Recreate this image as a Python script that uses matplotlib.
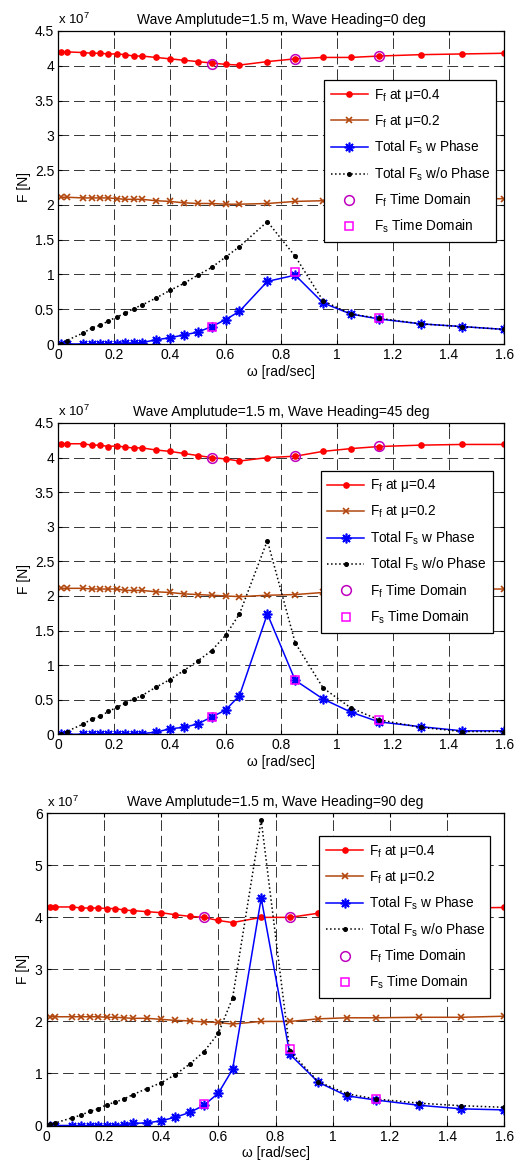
import matplotlib
matplotlib.use('Agg')
import matplotlib.pyplot as plt
from matplotlib.ticker import FormatStrFormatter

plt.rcParams['font.family'] = ['Liberation Sans', 'DejaVu Sans']
plt.rcParams['mathtext.fontset'] = 'custom'
plt.rcParams['mathtext.rm'] = 'Liberation Sans'
plt.rcParams['mathtext.it'] = 'Liberation Sans:italic'
plt.rcParams['mathtext.default'] = 'regular'

# wave frequency [rad/sec]
omega = [0.01, 0.03, 0.09, 0.12, 0.15, 0.18, 0.21, 0.24, 0.27, 0.30, 0.35, 0.40, 0.45,
         0.50, 0.55, 0.60, 0.65, 0.75, 0.85, 0.95, 1.05, 1.15, 1.30, 1.45, 1.60]
omega_td = [0.55, 0.85, 1.15]

# forces in units of 1e7 N
# heading 0 deg
ff04_0 = [4.20, 4.20, 4.19, 4.18, 4.18, 4.17, 4.17, 4.16, 4.14, 4.14, 4.12, 4.10, 4.08,
          4.06, 4.04, 4.02, 4.01, 4.06, 4.10, 4.12, 4.12, 4.14, 4.16, 4.17, 4.18]
ff02_0 = [2.11, 2.11, 2.10, 2.10, 2.10, 2.10, 2.09, 2.08, 2.08, 2.08, 2.06, 2.05, 2.03,
          2.02, 2.02, 2.01, 2.01, 2.02, 2.05, 2.06, 2.06, 2.07, 2.08, 2.08, 2.09]
fs_ph_0 = [0.0, 0.0, 0.0, 0.0, 0.0, 0.0, 0.0, 0.01, 0.01, 0.02, 0.06, 0.09, 0.13,
           0.17, 0.25, 0.35, 0.47, 0.90, 0.99, 0.59, 0.43, 0.36, 0.29, 0.25, 0.21]
fs_nph_0 = [0.0, 0.05, 0.16, 0.23, 0.27, 0.33, 0.39, 0.44, 0.51, 0.56, 0.66, 0.77, 0.87,
            0.99, 1.10, 1.25, 1.40, 1.76, 1.26, 0.62, 0.43, 0.37, 0.29, 0.25, 0.21]
ff_td_0 = [4.03, 4.10, 4.14]
fs_td_0 = [0.25, 1.03, 0.37]

# heading 45 deg
ff04_45 = [4.20, 4.20, 4.20, 4.18, 4.18, 4.16, 4.17, 4.15, 4.14, 4.14, 4.11, 4.09, 4.06,
           4.03, 4.00, 3.98, 3.95, 4.00, 4.02, 4.09, 4.13, 4.16, 4.18, 4.19, 4.19]
ff02_45 = [2.11, 2.11, 2.11, 2.10, 2.10, 2.10, 2.10, 2.08, 2.08, 2.08, 2.06, 2.05, 2.03,
           2.02, 2.01, 2.00, 1.99, 2.01, 2.02, 2.05, 2.07, 2.08, 2.09, 2.10, 2.10]
fs_ph_45 = [0.0, 0.0, 0.0, 0.0, 0.0, 0.0, 0.0, 0.01, 0.01, 0.01, 0.03, 0.08, 0.10,
            0.15, 0.25, 0.35, 0.56, 1.74, 0.78, 0.51, 0.32, 0.18, 0.11, 0.05, 0.05]
fs_nph_45 = [0.0, 0.04, 0.15, 0.22, 0.26, 0.33, 0.39, 0.45, 0.51, 0.56, 0.68, 0.79, 0.92,
             1.06, 1.21, 1.43, 1.74, 2.80, 1.32, 0.67, 0.38, 0.21, 0.10, 0.04, 0.04]
ff_td_45 = [4.00, 4.02, 4.17]
fs_td_45 = [0.25, 0.79, 0.20]

# heading 90 deg
ff04_90 = [4.20, 4.20, 4.20, 4.18, 4.18, 4.18, 4.17, 4.17, 4.14, 4.13, 4.11, 4.09, 4.05,
           4.02, 4.00, 3.94, 3.90, 4.00, 4.00, 4.08, 4.12, 4.15, 4.17, 4.18, 4.19]
ff02_90 = [2.09, 2.09, 2.09, 2.09, 2.09, 2.09, 2.08, 2.08, 2.07, 2.06, 2.06, 2.04, 2.02,
           2.01, 1.99, 1.98, 1.95, 2.00, 2.00, 2.05, 2.07, 2.07, 2.08, 2.08, 2.10]
fs_ph_90 = [0.0, 0.0, 0.0, 0.0, 0.0, 0.0, 0.0, 0.0, 0.01, 0.04, 0.05, 0.09, 0.16,
            0.25, 0.39, 0.62, 1.08, 4.37, 1.37, 0.83, 0.57, 0.49, 0.39, 0.32, 0.30]
fs_nph_90 = [0.02, 0.05, 0.15, 0.20, 0.27, 0.32, 0.40, 0.45, 0.51, 0.59, 0.71, 0.82, 0.98,
             1.18, 1.42, 1.77, 2.45, 5.87, 1.43, 0.84, 0.61, 0.51, 0.43, 0.38, 0.35]
ff_td_90 = [4.00, 4.00, 4.15]
fs_td_90 = [0.41, 1.47, 0.51]

headings = [0, 45, 90]
xticks = [0, 0.2, 0.4, 0.6, 0.8, 1.0, 1.2, 1.4, 1.6]

labels = [r'F$_\mathrm{f}$ at μ=0.4', r'F$_\mathrm{f}$ at μ=0.2',
          r'Total F$_\mathrm{s}$ w Phase', r'Total F$_\mathrm{s}$ w/o Phase',
          r'F$_\mathrm{f}$ Time Domain', r'F$_\mathrm{s}$ Time Domain']

brown = '#B2470E'
asterisk = (8, 2, 0)

W, H = 519, 1167
fig = plt.figure(figsize=(W / 100, H / 100), dpi=100)

# axes boxes in pixels: left, top, right, bottom
boxes = [(58.3, 31, 504.3, 344), (58.3, 423, 504.3, 734.3), (46.7, 813.3, 504.3, 1125.5)]
ylims = [(0, 4.5, 0.5), (0, 4.5, 0.5), (0, 6, 1)]
leg_pos = [(0.596, 0.843), (0.588, 0.847), (0.596, 0.927)]
leg_w = [0.386, 0.386, 0.373]

panels = [
    (ff04_0, ff02_0, fs_ph_0, fs_nph_0, ff_td_0, fs_td_0),
    (ff04_45, ff02_45, fs_ph_45, fs_nph_45, ff_td_45, fs_td_45),
    (ff04_90, ff02_90, fs_ph_90, fs_nph_90, ff_td_90, fs_td_90),
]

for i, (ff04, ff02, fs_ph, fs_nph, ff_td, fs_td) in enumerate(panels):
    l, t, r, b = boxes[i]
    ax = fig.add_axes([l / W, 1 - b / H, (r - l) / W, (b - t) / H])

    ax.plot(omega, ff04, '-', color='red', lw=1.1, marker='o', ms=3.8, mec='red', mfc='red',
            label=labels[0])
    ax.plot(omega, ff02, '-', color=brown, lw=1.1, marker='x', ms=4, mew=1.2,
            label=labels[1])
    ax.plot(omega, fs_ph, '-', color='blue', lw=1.1, marker=asterisk, ms=7, mew=1.2,
            label=labels[2])
    ax.plot(omega, fs_nph, ':', color='black', lw=1.1, marker='o', ms=2.6, mfc='black',
            label=labels[3])
    ax.plot(omega_td, ff_td, 'o', color='#BF00BF', ms=7, mfc='none', mew=1.1,
            label=labels[4])
    ax.plot(omega_td, fs_td, 's', color='magenta', ms=6, mfc='none', mew=1.1,
            label=labels[5])

    y0, y1, dy = ylims[i]
    ax.set_xlim(0, 1.6)
    ax.set_ylim(y0, y1)
    ax.set_xticks(xticks)
    yt = [y0 + k * dy for k in range(int(round((y1 - y0) / dy)) + 1)]
    ax.set_yticks(yt)
    ax.xaxis.set_major_formatter(FormatStrFormatter('%g'))
    ax.yaxis.set_major_formatter(FormatStrFormatter('%g'))
    ax.tick_params(direction='in', top=True, right=True, length=3, width=0.8,
                   labelsize=10, pad=3)
    ax.grid(True, color='black', linestyle=(0, (11, 5)), linewidth=0.7, alpha=0.8)
    for s in ax.spines.values():
        s.set_linewidth(0.9)

    ax.set_title('Wave Amplutude=1.5 m, Wave Heading=%d deg' % headings[i],
                 fontsize=10, pad=5)
    ax.set_xlabel(r'ω [rad/sec]', fontsize=10, labelpad=2)
    ax.set_ylabel('F [N]', fontsize=10, labelpad=3)
    ax.text(0.0, 1.012, r'x 10$^{7}$', transform=ax.transAxes, fontsize=9.5,
            ha='left', va='bottom')

    lx, ly = leg_pos[i]
    leg = ax.legend(loc='upper left', bbox_to_anchor=(lx, ly, leg_w[i], 0), mode='expand',
                    fontsize=9.8, frameon=True, fancybox=False, framealpha=1,
                    edgecolor='black', borderaxespad=0, borderpad=0.5,
                    labelspacing=0.66, handlelength=2.7, handletextpad=0.45,
                    numpoints=1)
    leg.get_frame().set_linewidth(0.9)

fig.savefig('out.png', dpi=100)
